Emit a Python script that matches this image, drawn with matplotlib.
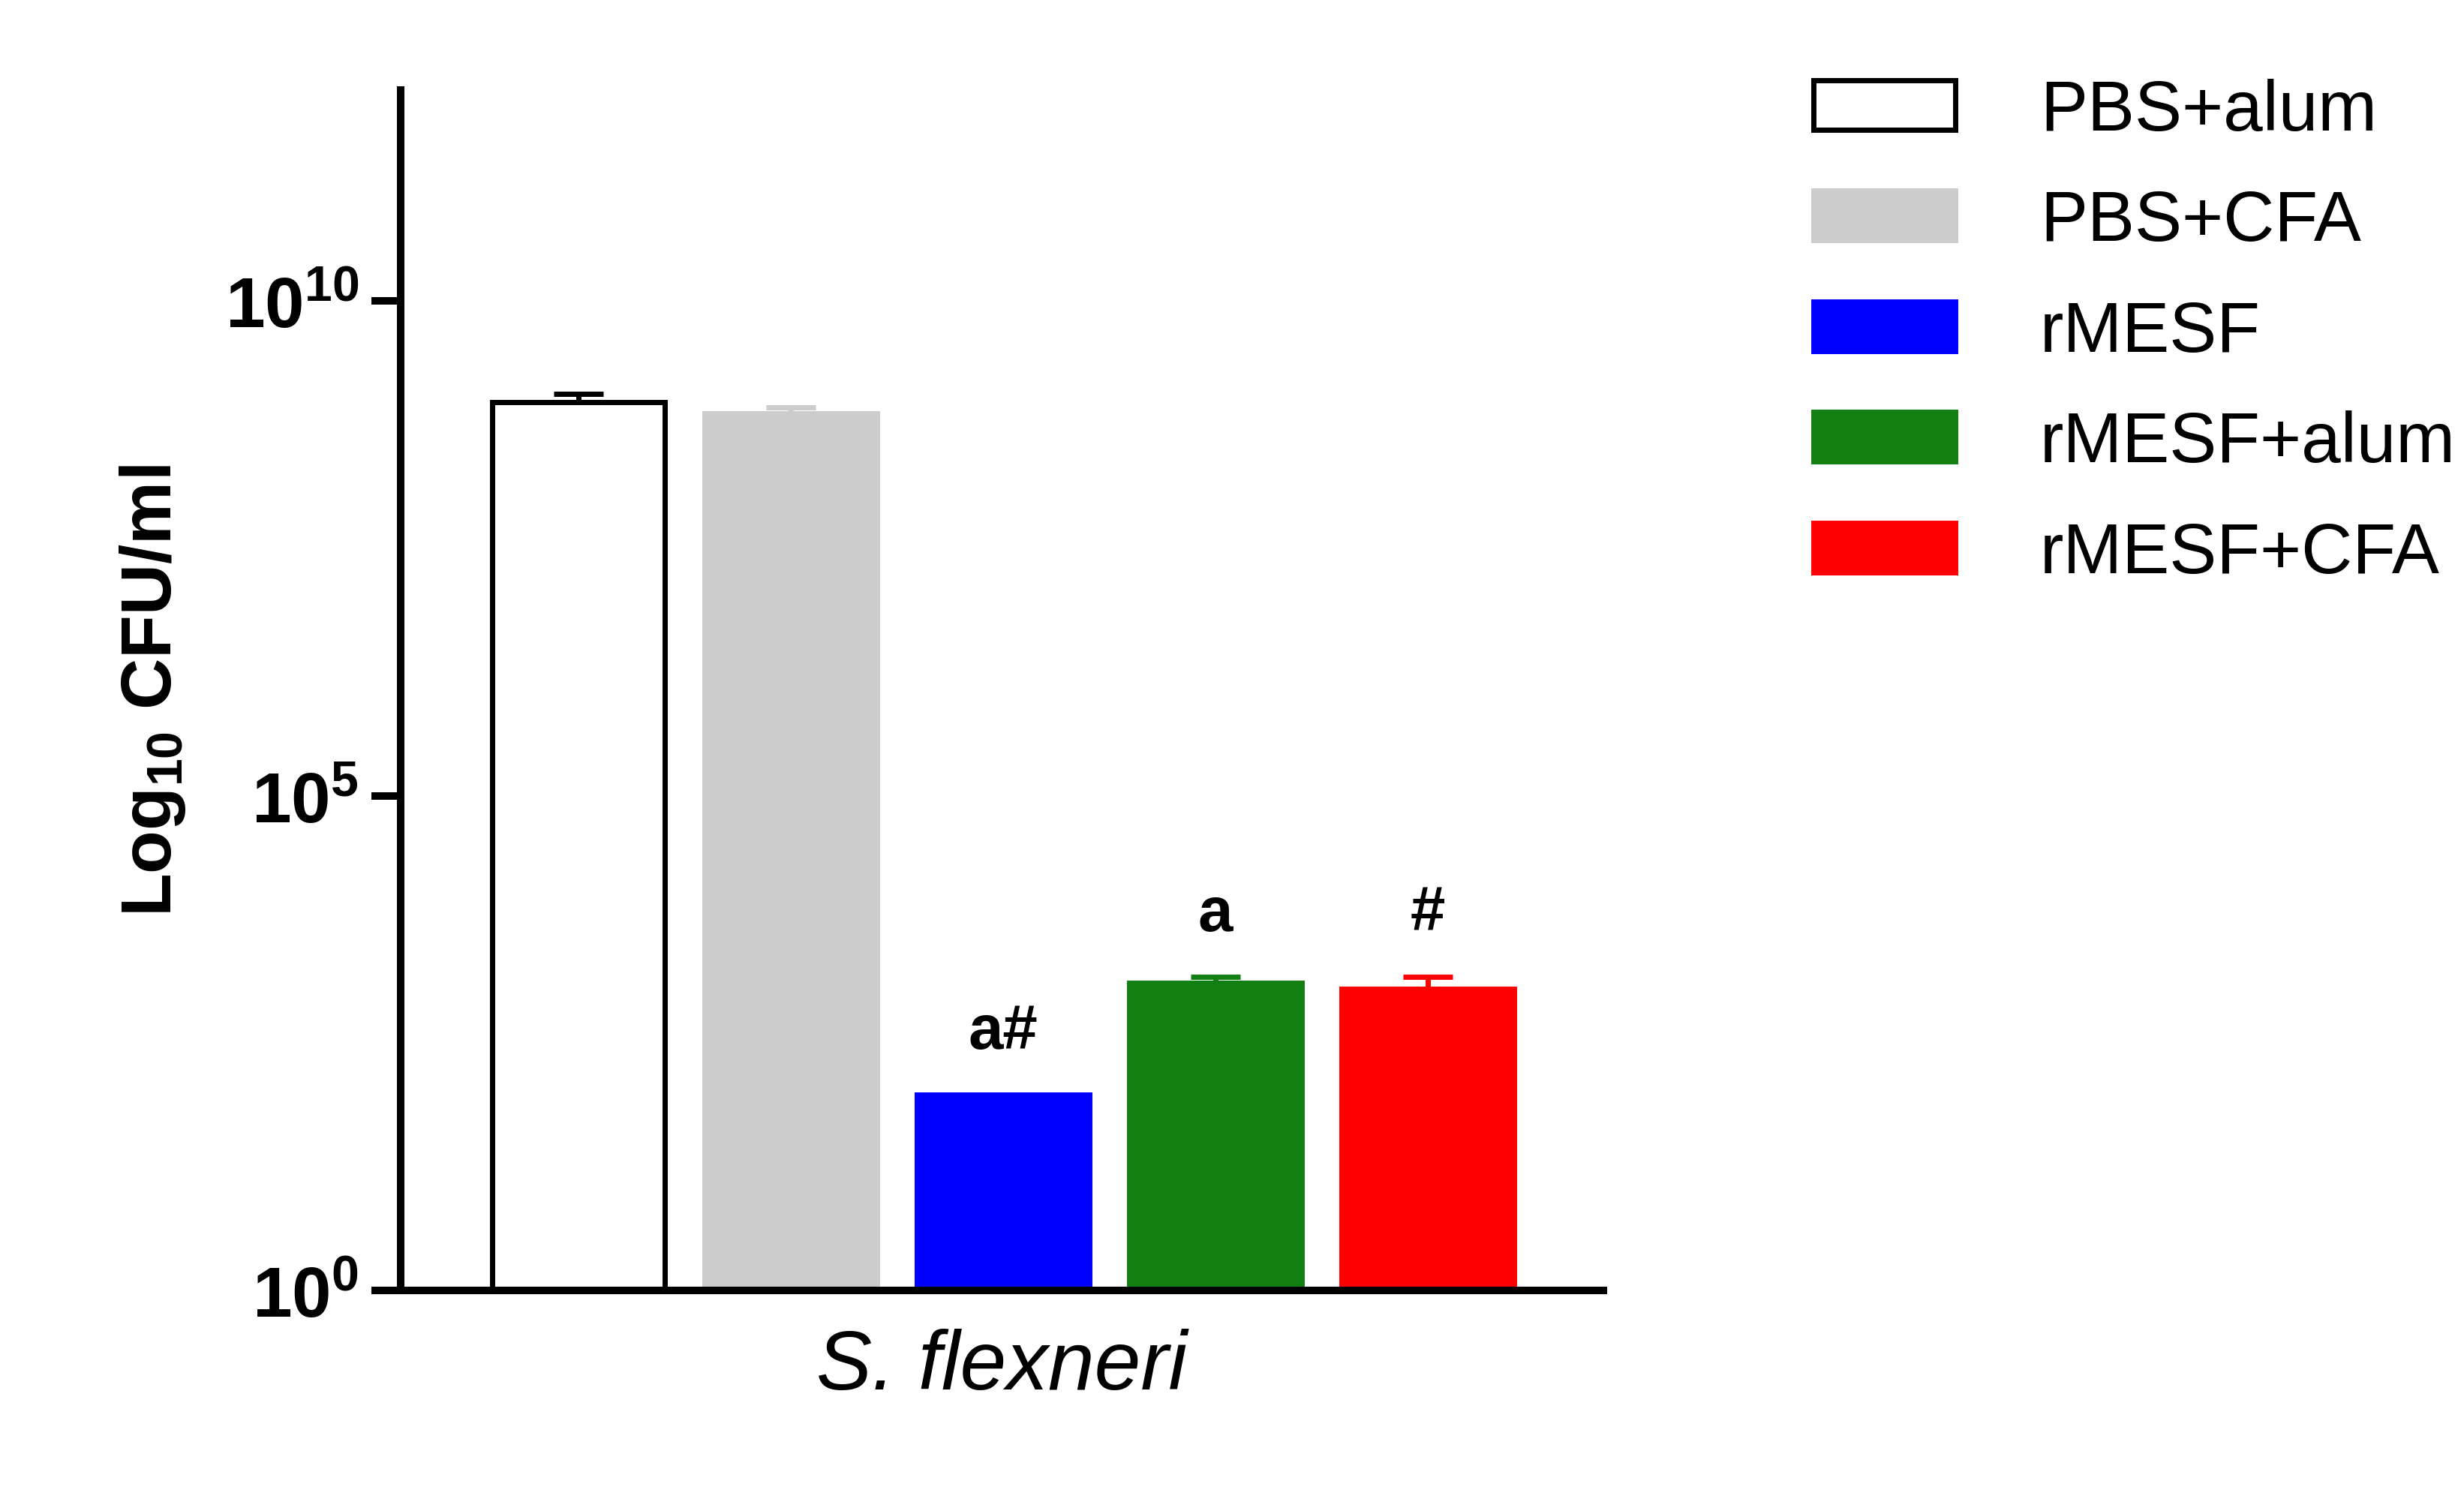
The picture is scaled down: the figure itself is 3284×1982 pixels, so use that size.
import matplotlib
matplotlib.use("Agg")
import matplotlib.pyplot as plt
import matplotlib.ticker as ticker
from matplotlib.patches import Patch

# values (log10 CFU/ml)
groups = ["PBS+alum", "PBS+CFA", "rMESF", "rMESF+alum", "rMESF+CFA"]
log_means = [8.98, 8.86, 1.98, 3.11, 3.05]
log_tops = [9.06, 8.92, 1.98, 3.17, 3.17]
marks = ["", "", "a#", "a", "#"]
face = ["white", "#cccccc", "#0000ff", "#117f11", "#ff0000"]
edge = ["black", "#cccccc", "#0000ff", "#117f11", "#ff0000"]

plt.rcParams['font.family'] = ['Liberation Sans', 'DejaVu Sans']
plt.rcParams['mathtext.fontset'] = 'custom'
plt.rcParams['mathtext.rm'] = 'Liberation Sans'
plt.rcParams['mathtext.bf'] = 'Liberation Sans:bold'

fig = plt.figure(figsize=(16.42, 9.915), dpi=200)
ax = fig.add_axes([0.1626, 0.132, 0.488, 0.807])

means = [10 ** v for v in log_means]
tops = [10 ** v for v in log_tops]
xs = [0.72 + 0.86 * i for i in range(len(groups))]
for i in range(len(groups)):
    ax.bar(xs[i], means[i] - 1, bottom=1, width=0.70, color=face[i],
           edgecolor=edge[i], linewidth=2.5, zorder=2)
    if tops[i] > means[i]:
        ax.errorbar(xs[i], means[i], yerr=[[0], [tops[i] - means[i]]],
                    fmt='none', ecolor=edge[i] if face[i] != "white" else "black",
                    elinewidth=2.5, capsize=12, capthick=2.5, zorder=1)
    if marks[i]:
        ax.text(xs[i], tops[i] * 2.2, marks[i], ha='center', va='bottom',
                fontsize=30, fontweight='bold')

ax.set_yscale('log')
ax.set_ylim(1, 10 ** 12.13)
ax.set_xlim(0, 4.87)
ax.set_yticks([1, 1e5, 1e10])
ax.yaxis.set_minor_locator(ticker.NullLocator())
ax.set_yticklabels([r'$\mathbf{10^{0}}$', r'$\mathbf{10^{5}}$', r'$\mathbf{10^{10}}$'],
                   fontsize=34)
ax.set_xticks([])
ax.set_xlabel("S. flexneri", fontsize=40, style='italic', labelpad=18)
ax.set_ylabel(r'Log$_{\mathbf{10}}$ CFU/ml', fontsize=34, fontweight='bold', labelpad=18)
for s in ['top', 'right']:
    ax.spines[s].set_visible(False)
for s in ['left', 'bottom']:
    ax.spines[s].set_linewidth(3.6)
ax.tick_params(axis='y', width=3.6, length=14, pad=6)

handles = [Patch(facecolor=face[i], edgecolor=edge[i], linewidth=2.5, label=groups[i])
           for i in range(len(groups))]
fig.legend(handles=handles, loc='upper left', bbox_to_anchor=(0.71, 0.99),
           frameon=False, fontsize=34, handlelength=2.0, handleheight=0.7,
           handletextpad=1.2, labelspacing=0.62)

fig.savefig("out.png", dpi=200)
